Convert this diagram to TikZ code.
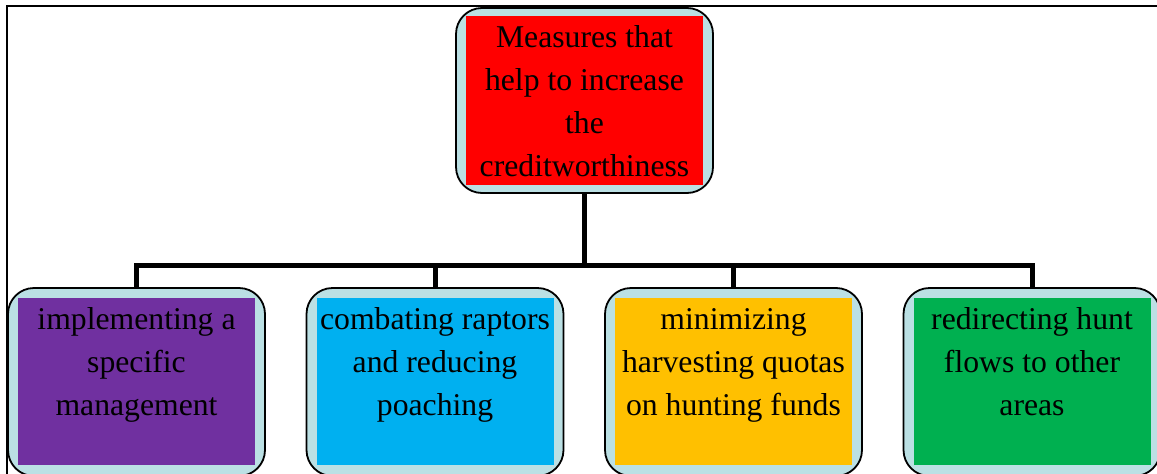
\documentclass[tikz,border=0pt]{standalone}
\usepackage{fontspec}
\setmainfont{Liberation Serif}
\definecolor{shell}{RGB}{187,224,228}
\definecolor{cred}{RGB}{255,0,0}
\definecolor{cpurple}{RGB}{112,48,160}
\definecolor{cblue}{RGB}{0,176,240}
\definecolor{corange}{RGB}{255,192,0}
\definecolor{cgreen}{RGB}{0,176,80}
\tikzset{
  shellbox/.style={draw=black, line width=1.8pt, fill=shell, rounded corners=26pt,
    minimum width=257pt, inner sep=0pt},
  corebox/.style={draw=none, inner sep=0pt, minimum width=237pt},
  label/.style={align=center, inner sep=0pt, anchor=north,
    font=\fontsize{31.7}{43}\selectfont},
  link/.style={line width=5pt, line join=miter, draw=black},
}
\newcommand{\firststrut}{\rule{0pt}{25pt}}
\begin{document}
\begin{tikzpicture}[x=1pt,y=1pt]
\useasboundingbox (0,0) rectangle (1157,-474);
\begin{scope}
\clip (0,0) rectangle (1157,-474);
% frame
\draw[line width=2pt] (7,-490) -- (7,-6) -- (1170,-6);
% top box
\node[shellbox, minimum height=185pt] (top) at (584.5,-100.5) {};
\node[corebox, fill=cred, minimum height=169pt] (topc) at (584.5,-100.5) {};
\node[label] (topt) at (584.5,-22) {\firststrut Measures that\\help to increase\\the\\creditworthiness};
% bottom boxes
\node[shellbox, minimum height=188pt] (b1) at (136.5,-382) {};
\node[corebox, fill=cpurple, minimum height=167pt] (b1c) at (136.5,-381.5) {};
\node[label] (b1t) at (136.5,-304) {\firststrut implementing a\\specific\\management};
\node[shellbox, minimum height=188pt] (b2) at (435,-382) {};
\node[corebox, fill=cblue, minimum height=167pt] (b2c) at (435,-381.5) {};
\node[label] (b2t) at (435,-304) {\firststrut combating raptors\\and reducing\\poaching};
\node[shellbox, minimum height=188pt] (b3) at (733.5,-382) {};
\node[corebox, fill=corange, minimum height=167pt] (b3c) at (733.5,-381.5) {};
\node[label] (b3t) at (733.5,-304) {\firststrut minimizing\\harvesting quotas\\on hunting funds};
\node[shellbox, minimum height=188pt] (b4) at (1032,-382) {};
\node[corebox, fill=cgreen, minimum height=167pt] (b4c) at (1032,-381.5) {};
\node[label] (b4t) at (1032,-304) {\firststrut redirecting hunt\\flows to other\\areas};
% connectors
\coordinate (j) at (584.5,-265);
\draw[link] (top.south) -- (j);
\draw[link] (j) -| (b1.north);
\draw[link] (j) -| (b2.north);
\draw[link] (j) -| (b3.north);
\draw[link] (j) -| (b4.north);
\end{scope}
\end{tikzpicture}
\end{document}
